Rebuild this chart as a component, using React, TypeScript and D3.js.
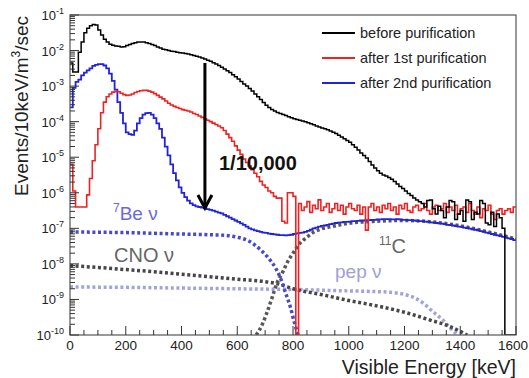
import React, { useEffect, useRef } from 'react';
import * as d3 from 'd3';

// histograms: log10(events) per 10 keV bin, 0 - 1600 keV
const binWidth = 10;

const blackLog = [
  -2.35, -2.6, -2.6, -2.05, -1.76, -1.5, -1.37, -1.3, -1.27, -1.28,
  -1.42, -1.56, -1.68, -1.76, -1.82, -1.85, -1.87, -1.88, -1.9, -1.89,
  -1.86, -1.83, -1.8, -1.78, -1.76, -1.76, -1.76, -1.78, -1.8, -1.83,
  -1.86, -1.9, -1.93, -1.96, -1.98, -2.0, -2.02, -2.03, -2.05, -2.06,
  -2.07, -2.08, -2.1, -2.12, -2.14, -2.16, -2.18, -2.21, -2.24, -2.27,
  -2.3, -2.34, -2.38, -2.42, -2.47, -2.52, -2.57, -2.62, -2.68, -2.74,
  -2.8, -2.87, -2.94, -3.0, -3.07, -3.14, -3.22, -3.3, -3.38, -3.46,
  -3.54, -3.6, -3.66, -3.7, -3.74, -3.77, -3.8, -3.83, -3.86, -3.89,
  -3.92, -3.94, -3.96, -3.98, -4.0, -4.03, -4.06, -4.09, -4.12, -4.15,
  -4.18, -4.2, -4.23, -4.26, -4.3, -4.33, -4.38, -4.43, -4.48, -4.53,
  -4.58, -4.65, -4.72, -4.8, -4.88, -4.95, -5.02, -5.12, -5.22, -5.3,
  -5.38, -5.45, -5.5, -5.53, -5.57, -5.62, -5.68, -5.75, -5.82, -5.88,
  -5.95, -6.02, -6.08, -6.15, -6.2, -6.25, -6.3, -6.4, -6.22, -6.2,
  -6.45, -6.6, -6.38, -6.5, -6.7, -6.4, -6.22, -6.25, -6.75, -6.6,
  -6.5, -6.8, -6.2, -6.25, -6.75, -6.55, -6.6, -6.22, -6.3, -6.85,
  -6.9, -6.55, -6.95, -6.6, -6.7, -7.0, -12, -12, -12, -12,
];

const redLog = [
  -5.2, -5.95, -6.4, -6.4, -6.4, -6.4, -6.06, -5.6, -5.1, -4.65,
  -4.2, -3.75, -3.45, -3.3, -3.22, -3.17, -3.15, -3.16, -3.2, -3.24,
  -3.26, -3.25, -3.22, -3.18, -3.15, -3.13, -3.12, -3.12, -3.14, -3.17,
  -3.21, -3.26, -3.31, -3.36, -3.42, -3.48, -3.53, -3.57, -3.6, -3.63,
  -3.66, -3.68, -3.7, -3.73, -3.77, -3.8, -3.84, -3.88, -3.92, -3.96,
  -4.0, -4.04, -4.08, -4.12, -4.17, -4.25, -4.35, -4.45, -4.55, -4.68,
  -4.8, -4.92, -5.05, -5.15, -5.25, -5.35, -5.45, -5.55, -5.68, -5.78,
  -5.85, -5.95, -6.0, -6.1, -6.15, -6.15, -6.8, -6.85, -6.0, -6.0,
  -6.1, -12, -6.3, -6.5, -6.4, -6.25, -6.55, -6.35, -6.45, -6.2,
  -6.5, -6.4, -6.3, -6.55, -6.45, -6.3, -6.5, -6.35, -6.6, -6.4,
  -6.3, -6.45, -6.5, -6.35, -6.6, -6.4, -7.05, -6.4, -6.3, -6.5,
  -6.4, -6.55, -6.35, -6.45, -6.3, -6.5, -6.4, -6.6, -6.35, -6.45,
  -6.3, -6.5, -6.55, -6.4, -6.35, -6.5, -6.45, -6.3, -6.5, -6.6,
  -6.4, -6.35, -6.5, -6.45, -6.3, -6.55, -6.4, -6.5, -6.35, -6.6,
  -6.45, -6.4, -6.55, -6.3, -6.5, -6.6, -6.4, -6.7, -6.45, -6.5,
  -6.35, -6.6, -6.75, -6.5, -6.45, -6.6, -6.5, -6.45, -6.55, -6.4,
];

const blueLog = [
  -3.6, -3.05, -2.88, -2.82, -2.7, -2.62, -2.56, -2.5, -2.43, -2.4,
  -2.38, -2.38, -2.42, -2.5, -2.65, -2.85, -3.1, -3.45, -3.75, -4.05,
  -4.3, -4.35, -4.37, -4.25, -4.05, -3.9, -3.8, -3.76, -3.75, -3.8,
  -3.9, -4.05, -4.2, -4.45, -4.7, -4.95, -5.2, -5.45, -5.65, -5.85,
  -6.0, -6.12, -6.22, -6.3, -6.35, -6.38, -6.4, -6.42, -6.44, -6.46,
  -6.48, -6.5, -6.53, -6.56, -6.58, -6.62, -6.66, -6.7, -6.74, -6.78,
  -6.82, -6.86, -6.9, -6.95, -7.0, -7.03, -7.06, -7.08, -7.1, -7.12,
  -7.13, -7.15, -7.16, -7.17, -7.18, -7.19, -7.19, -7.2, -7.19, -7.18,
  -7.16, -7.14, -7.13, -7.12, -7.1, -7.07, -7.04, -7.0, -6.98, -6.95,
  -6.93, -6.92, -6.9, -6.88, -6.87, -6.85, -6.84, -6.83, -6.82, -6.82,
  -6.81, -6.8, -6.8, -6.79, -6.78, -6.78, -6.77, -6.77, -6.76, -6.76,
  -6.75, -6.75, -6.74, -6.74, -6.74, -6.75, -6.75, -6.74, -6.75, -6.76,
  -6.76, -6.77, -6.77, -6.78, -6.79, -6.8, -6.8, -6.81, -6.82, -6.83,
  -6.84, -6.85, -6.86, -6.87, -6.88, -6.9, -6.91, -6.92, -6.94, -6.95,
  -6.96, -6.98, -6.99, -7.01, -7.03, -7.04, -7.06, -7.08, -7.1, -7.12,
  -7.14, -7.16, -7.18, -7.2, -7.22, -7.24, -7.26, -7.28, -7.3, -7.33,
];

// expected signal spectra: [energy keV, log10(events)]
const be7Curve = [
  [0, -7.1], [100, -7.11], [200, -7.12], [300, -7.14], [400, -7.16], [500, -7.18],
  [560, -7.2], [600, -7.25], [640, -7.35], [680, -7.58], [710, -7.82], [740, -8.15],
  [755, -8.4], [775, -8.85], [790, -9.2], [805, -9.65], [818, -10.1],
];
const cnoCurve = [
  [0, -8.05], [100, -8.1], [200, -8.16], [300, -8.22], [400, -8.29], [500, -8.36],
  [600, -8.43], [700, -8.5], [750, -8.57], [800, -8.7], [900, -8.86], [1000, -9.03],
  [1100, -9.18], [1200, -9.36], [1300, -9.6], [1350, -9.72], [1400, -9.9], [1425, -10.05],
];
const pepCurve = [
  [0, -8.65], [200, -8.66], [400, -8.68], [600, -8.7], [800, -8.72], [1000, -8.76],
  [1100, -8.78], [1150, -8.8], [1200, -8.86], [1240, -8.97], [1270, -9.12],
  [1300, -9.33], [1340, -9.6], [1370, -9.85], [1390, -10.05],
];
const c11Curve = [
  [668, -10.1], [690, -9.7], [706, -9.38], [725, -8.95], [742, -8.55], [765, -8.2],
  [780, -7.95], [800, -7.7], [825, -7.42], [850, -7.25], [872, -7.12], [900, -7.02],
  [933, -6.96], [1000, -6.86], [1100, -6.8], [1200, -6.78], [1300, -6.82],
  [1400, -6.93], [1500, -7.1], [1600, -7.3],
];

const xTicks = [0, 200, 400, 600, 800, 1000, 1200, 1400, 1600];
const yExponents = [-1, -2, -3, -4, -5, -6, -7, -8, -9, -10];

const legendItems = [
  { label: 'before purification', color: '#000000' },
  { label: 'after 1st purification', color: '#ee2222' },
  { label: 'after 2nd purification', color: '#2222dd' },
];

const arrow = { energy: 484, fromLog: -2.35, toLog: -6.43 };

const FONT = '"Liberation Sans", Arial, Helvetica, sans-serif';

function App() {
  const svgRef = useRef(null);

  useEffect(() => {
    const svg = d3.select(svgRef.current);
    svg.selectAll('*').remove();
    const width = 529;
    const height = 378;
    const margin = { top: 15, right: 13, bottom: 43, left: 70 };

    const x = d3.scaleLinear().domain([0, 1600]).range([margin.left, width - margin.right]);
    const y = d3.scaleLog().domain([1e-10, 1e-1]).range([height - margin.bottom, margin.top]).clamp(true);

    svg.append('rect').attr('width', width).attr('height', height).attr('fill', '#fff');

    svg.append('clipPath').attr('id', 'plotClip')
      .append('rect')
      .attr('x', margin.left).attr('y', margin.top)
      .attr('width', x(1600) - x(0)).attr('height', y(1e-10) - y(1e-1));

    const plot = svg.append('g').attr('clip-path', 'url(#plotClip)');

    // dotted signal curves
    const smooth = d3.line()
      .x(d => x(d[0]))
      .y(d => y(Math.pow(10, d[1])))
      .curve(d3.curveMonotoneX);

    const dotted = [
      { data: pepCurve, color: '#a3a3dc' },
      { data: cnoCurve, color: '#474747' },
      { data: c11Curve, color: '#575757' },
      { data: be7Curve, color: '#4848cc' },
    ];
    dotted.forEach(c => {
      plot.append('path')
        .attr('d', smooth(c.data))
        .attr('fill', 'none')
        .attr('stroke', c.color)
        .attr('stroke-width', 3.5)
        .attr('stroke-dasharray', '3,2.6');
    });

    // histograms
    const step = d3.line()
      .x(d => x(d[0]))
      .y(d => y(Math.pow(10, d[1])))
      .curve(d3.curveStepAfter);
    const toPoints = arr => {
      const pts = arr.map((v, i) => [i * binWidth, v]);
      pts.push([arr.length * binWidth, arr[arr.length - 1]]);
      return pts;
    };
    const hists = [
      { data: blueLog, color: '#2222dd', w: 1.8 },
      { data: redLog, color: '#ee2222', w: 1.6 },
      { data: blackLog, color: '#000000', w: 1.5 },
    ];
    hists.forEach(h => {
      plot.append('path')
        .attr('d', step(toPoints(h.data)))
        .attr('fill', 'none')
        .attr('stroke', h.color)
        .attr('stroke-width', h.w)
        .attr('stroke-linejoin', 'miter');
    });

    // frame
    svg.append('rect')
      .attr('x', margin.left).attr('y', margin.top)
      .attr('width', x(1600) - x(0)).attr('height', y(1e-10) - y(1e-1))
      .attr('fill', 'none').attr('stroke', '#555').attr('stroke-width', 1.2);

    // y ticks (inside, log minor ticks)
    const yMinor = [];
    for (let e = -10; e < -1; e++) {
      for (let k = 1; k < 10; k++) yMinor.push({ v: k * Math.pow(10, e), major: k === 1 });
    }
    yMinor.push({ v: 1e-1, major: true });
    svg.append('g').selectAll('line')
      .data(yMinor)
      .enter().append('line')
      .attr('x1', margin.left)
      .attr('x2', d => margin.left + (d.major ? 9 : 5))
      .attr('y1', d => y(d.v)).attr('y2', d => y(d.v))
      .attr('stroke', '#333').attr('stroke-width', 1);

    const yLabels = svg.append('g').selectAll('text')
      .data(yExponents)
      .enter().append('text')
      .attr('x', margin.left - 6)
      .attr('y', d => y(Math.pow(10, d)) + 5)
      .attr('text-anchor', 'end')
      .attr('font-family', FONT)
      .attr('fill', '#222');
    yLabels.append('tspan').attr('font-size', 13).text('10');
    yLabels.append('tspan').attr('font-size', 9).attr('dy', -6).text(d => String(d));

    // x ticks
    const xMinor = d3.range(0, 1601, 50);
    svg.append('g').selectAll('line')
      .data(xMinor)
      .enter().append('line')
      .attr('x1', d => x(d)).attr('x2', d => x(d))
      .attr('y1', y(1e-10))
      .attr('y2', d => y(1e-10) - (d % 200 === 0 ? 9 : 5))
      .attr('stroke', '#333').attr('stroke-width', 1);

    svg.append('g').selectAll('text')
      .data(xTicks)
      .enter().append('text')
      .attr('x', d => (d === 1600 ? width - 1 : x(d)))
      .attr('y', y(1e-10) + 15)
      .attr('text-anchor', d => (d === 1600 ? 'end' : 'middle'))
      .attr('font-family', FONT)
      .attr('font-size', 13.5)
      .attr('fill', '#222')
      .text(d => d);

    // axis titles
    svg.append('text')
      .attr('x', width - margin.right)
      .attr('y', 374)
      .attr('text-anchor', 'end')
      .attr('font-family', FONT)
      .attr('font-size', 19.5)
      .attr('fill', '#222')
      .text('Visible Energy [keV]');

    const yt = svg.append('text')
      .attr('transform', 'translate(28,16) rotate(-90)')
      .attr('text-anchor', 'end')
      .attr('font-family', FONT)
      .attr('font-size', 19)
      .attr('fill', '#222');
    yt.append('tspan').text('Events/10keV/m');
    yt.append('tspan').attr('font-size', 12).attr('dy', -8).text('3');
    yt.append('tspan').attr('dy', 8).text('/sec');

    // arrow annotation
    const ax = x(arrow.energy);
    const ay0 = y(Math.pow(10, arrow.fromLog));
    const ay1 = y(Math.pow(10, arrow.toLog));
    svg.append('line')
      .attr('x1', ax).attr('x2', ax).attr('y1', ay0).attr('y2', ay1 - 2)
      .attr('stroke', '#000').attr('stroke-width', 3);
    svg.append('polyline')
      .attr('points', `${ax - 7},${ay1 - 13} ${ax},${ay1} ${ax + 7},${ay1 - 13}`)
      .attr('fill', 'none').attr('stroke', '#000').attr('stroke-width', 3);

    svg.append('text')
      .attr('x', 219).attr('y', 170)
      .attr('font-family', FONT).attr('font-size', 20).attr('font-weight', 'bold')
      .attr('fill', '#111')
      .text('1/10,000');

    // curve labels
    const be = svg.append('text')
      .attr('x', 113).attr('y', 220)
      .attr('font-family', FONT).attr('fill', '#6a6ad6');
    be.append('tspan').attr('font-size', 12).attr('dy', -8).text('7');
    be.append('tspan').attr('font-size', 19).attr('dy', 8).text('Be ν');

    svg.append('text')
      .attr('x', 114).attr('y', 262)
      .attr('font-family', FONT).attr('font-size', 20).attr('fill', '#666')
      .text('CNO ν');

    const c11 = svg.append('text')
      .attr('x', 379).attr('y', 253)
      .attr('font-family', FONT).attr('fill', '#666');
    c11.append('tspan').attr('font-size', 12).attr('dy', -8).text('11');
    c11.append('tspan').attr('font-size', 20).attr('dy', 8).text('C');

    svg.append('text')
      .attr('x', 335).attr('y', 278)
      .attr('font-family', FONT).attr('font-size', 19).attr('fill', '#a0a0d8')
      .text('pep ν');

    // legend
    const legend = svg.selectAll('.legend')
      .data(legendItems)
      .enter().append('g')
      .attr('class', 'legend')
      .attr('transform', (d, i) => `translate(322,${33 + i * 25})`);
    legend.append('line')
      .attr('x1', 0).attr('x2', 33).attr('y1', 0).attr('y2', 0)
      .attr('stroke', d => d.color).attr('stroke-width', 2);
    legend.append('text')
      .attr('x', 38).attr('y', 5)
      .attr('font-family', FONT).attr('font-size', 14.5).attr('fill', '#222')
      .text(d => d.label);
  }, []);

  return (
    <svg ref={svgRef} width={529} height={378} style={{ position: 'absolute', left: 0, top: 0 }}></svg>
  );
}

export default App;
